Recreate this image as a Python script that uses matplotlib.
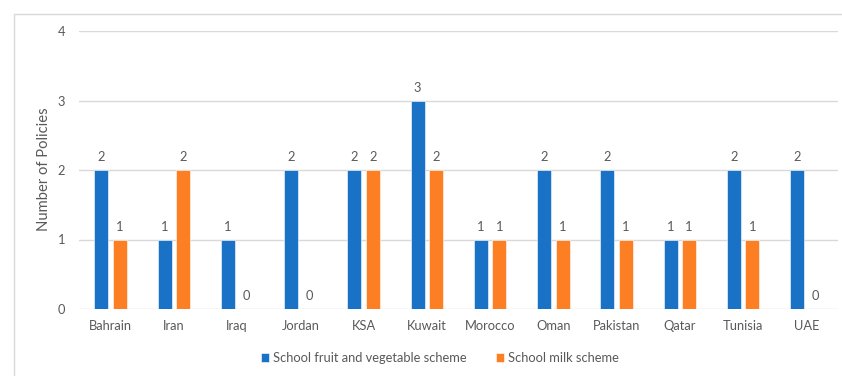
import matplotlib.pyplot as plt
from matplotlib.patches import Rectangle
import numpy as np

# chart data
countries = ["Bahrain", "Iran", "Iraq", "Jordan", "KSA", "Kuwait", "Morocco",
             "Oman", "Pakistan", "Qatar", "Tunisia", "UAE"]
fruit_veg = [2, 1, 1, 2, 2, 3, 1, 2, 2, 1, 2, 2]
milk = [1, 2, 0, 0, 2, 2, 1, 1, 1, 1, 1, 0]
series_names = ["School fruit and vegetable scheme", "School milk scheme"]

BLUE = "#1A72C6"
ORANGE = "#FD7F23"
TXT = "#595959"
GRID = "#D9D9D9"
FS = 9.3

plt.rcParams['font.family'] = ['Lato', 'DejaVu Sans']

fig = plt.figure(figsize=(8.42, 3.76), dpi=100)
ax = fig.add_axes([79 / 842, 1 - 309 / 376, (838 - 79) / 842, (309 - 31) / 376])

# outer chart frame
fig.patches.append(Rectangle((14 / 842, -0.1), 1.0, 1 - 14 / 376 + 0.1,
                             transform=fig.transFigure, fill=False,
                             edgecolor="#D9D9D9", linewidth=1.0))

x = np.arange(len(countries))
w = 0.22
off = 0.145
b1 = ax.bar(x - off, fruit_veg, w, color=BLUE, edgecolor="white", linewidth=0.4,
            label=series_names[0], zorder=3)
b2 = ax.bar(x + off, milk, w, color=ORANGE, edgecolor="white", linewidth=0.4,
            label=series_names[1], zorder=3)

for bars in (b1, b2):
    ax.bar_label(bars, padding=5, color=TXT, fontsize=FS)

ax.set_xlim(-0.5, len(countries) - 0.5)
ax.set_ylim(0, 4)
ax.set_yticks([0, 1, 2, 3, 4])
ax.set_xticks(x)
ax.set_xticklabels(countries)
ax.tick_params(axis='both', length=0, colors=TXT, labelsize=FS)
ax.tick_params(axis='x', pad=8)
ax.tick_params(axis='y', pad=10)

ax.grid(True, axis='y', color=GRID, linewidth=1.0, zorder=0)
ax.set_axisbelow(True)
for s in ax.spines.values():
    s.set_visible(False)

fig.text(44 / 842, 1 - 169 / 376, "Number of Policies", rotation=90,
         ha='center', va='center', color=TXT, fontsize=10.6)

fig.legend(handles=[b1, b2], loc='center', bbox_to_anchor=(440 / 842, 1 - 358 / 376),
           ncol=2, frameon=False, fontsize=FS, labelcolor=TXT,
           handlelength=0.6, handleheight=0.6, handletextpad=0.3, columnspacing=2.3)

fig.savefig("out.png", dpi=100)
